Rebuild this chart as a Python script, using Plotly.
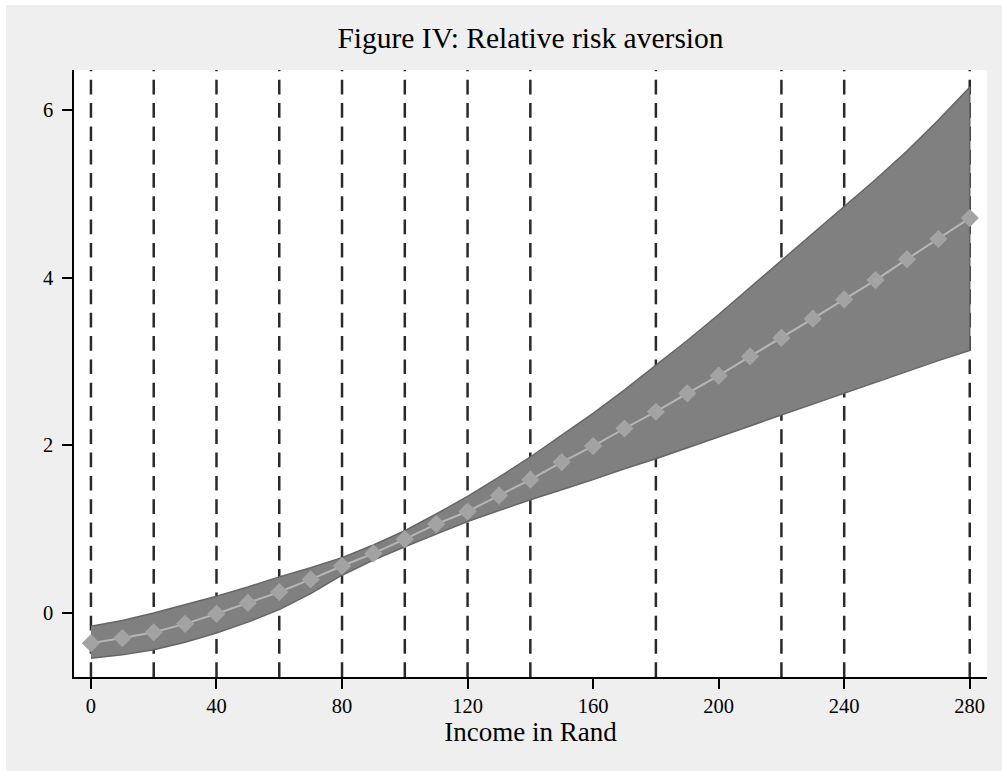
import plotly.graph_objects as go

# ---- data ----
income = [0, 10, 20, 30, 40, 50, 60, 70, 80, 90, 100, 110, 120, 130, 140,
          150, 160, 170, 180, 190, 200, 210, 220, 230, 240, 250, 260, 270, 280]
rra = [-0.36, -0.30, -0.23, -0.13, -0.01, 0.12, 0.25, 0.40, 0.56, 0.71, 0.88,
       1.06, 1.21, 1.40, 1.59, 1.80, 1.99, 2.20, 2.40, 2.62, 2.83, 3.06, 3.28,
       3.51, 3.74, 3.97, 4.22, 4.46, 4.71]
upper = [-0.16, -0.09, 0.00, 0.10, 0.20, 0.31, 0.43, 0.54, 0.66, 0.81, 0.98,
         1.18, 1.39, 1.62, 1.86, 2.12, 2.38, 2.66, 2.95, 3.25, 3.56, 3.88,
         4.21, 4.53, 4.84, 5.17, 5.51, 5.88, 6.27]
lower = [-0.54, -0.50, -0.44, -0.35, -0.24, -0.11, 0.04, 0.23, 0.45, 0.63,
         0.79, 0.94, 1.09, 1.22, 1.35, 1.47, 1.59, 1.72, 1.84, 1.97, 2.10,
         2.23, 2.36, 2.49, 2.62, 2.75, 2.88, 3.01, 3.13]
cutpoints = [0, 20, 40, 60, 80, 100, 120, 140, 180, 220, 240, 280]
x_ticks = [0, 40, 80, 120, 160, 200, 240, 280]
y_ticks = [0, 2, 4, 6]

W, H = 1002, 771
L, R, T, B = 74, 15, 70, 94
FONT = "Liberation Serif, Times New Roman, serif"

fig = go.Figure()

# confidence band as a closed polygon
fig.add_trace(go.Scatter(
    x=income + income[::-1],
    y=upper + lower[::-1],
    fill="toself", fillcolor="#808080",
    line=dict(color="#666666", width=1.5),
    mode="lines", hoverinfo="skip", showlegend=False))

# point estimates
fig.add_trace(go.Scatter(
    x=income, y=rra, mode="lines+markers",
    line=dict(color="#b6b6b6", width=2),
    marker=dict(symbol="diamond", size=14, color="#a3a3a3"),
    showlegend=False))

shapes = []
for c in cutpoints:
    shapes.append(dict(type="line", xref="x", yref="paper", x0=c, x1=c,
                       y0=0, y1=1, layer="below",
                       line=dict(color="#2a2a2a", width=2.5, dash="14.7px,8.6px")))

# thin white border strips at top and left of the picture
pw, ph = W - L - R, H - T - B
def px_x(p):
    return (p - L) / pw
def px_y(p):
    return (H - B - p) / ph
shapes.append(dict(type="rect", xref="paper", yref="paper", layer="below",
                   x0=px_x(0), x1=px_x(W), y0=px_y(5), y1=px_y(0),
                   fillcolor="white", line=dict(width=0)))
shapes.append(dict(type="rect", xref="paper", yref="paper", layer="below",
                   x0=px_x(0), x1=px_x(6), y0=px_y(H), y1=px_y(0),
                   fillcolor="white", line=dict(width=0)))

fig.update_layout(
    width=W, height=H,
    margin=dict(l=L, r=R, t=T, b=B, autoexpand=False),
    paper_bgcolor="#efefef", plot_bgcolor="white",
    font=dict(family=FONT, color="black", size=20),
    title=dict(text="Figure IV: Relative risk aversion",
               font=dict(family=FONT, size=29.5, color="black"),
               x=0.5, xanchor="center", xref="paper",
               y=1 - 38 / H, yanchor="middle", yref="container"),
    shapes=shapes,
    showlegend=False,
)

fig.update_xaxes(range=[-5.4, 285.5], tickvals=x_ticks,
                 ticks="outside", ticklen=10, tickwidth=1.5, tickcolor="black",
                 showline=True, linecolor="black", linewidth=1.5,
                 showgrid=False, zeroline=False,
                 tickfont=dict(family=FONT, size=20.5),
                 title=dict(text="Income in Rand", standoff=4,
                            font=dict(family=FONT, size=27)))
fig.update_yaxes(range=[-0.764, 6.476], tickvals=y_ticks,
                 ticks="outside", ticklen=10, tickwidth=1.5, tickcolor="black",
                 showline=True, linecolor="black", linewidth=1.5,
                 showgrid=False, zeroline=False, ticklabelstandoff=5,
                 tickfont=dict(family=FONT, size=20.5))

fig.write_html("out.html")
